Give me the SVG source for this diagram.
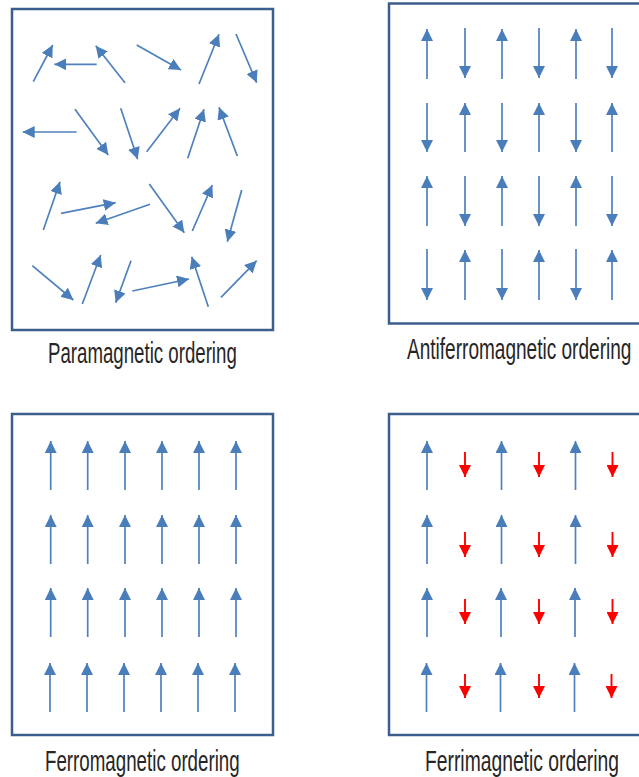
<svg xmlns="http://www.w3.org/2000/svg" width="639" height="777" viewBox="0 0 639 777">
<style>
.box{fill:#ffffff;stroke:#3b5e8c;stroke-width:2.5}
.b{stroke:#4f81bd;stroke-width:1.7;fill:none;marker-end:url(#hb)}
.r{stroke:#ff0000;stroke-width:1.9;fill:none;marker-end:url(#hr)}
.lbl{font-family:"Liberation Sans",Arial,sans-serif;font-size:29px;fill:#262626}
</style>
<defs>
<marker id="hb" markerUnits="userSpaceOnUse" viewBox="0 0 12 12" markerWidth="12" markerHeight="12" refX="12" refY="6" orient="auto"><path d="M0,0 L12,6 L0,12 Z" fill="#4a7ebb"/></marker>
<marker id="hr" markerUnits="userSpaceOnUse" viewBox="0 0 12 12" markerWidth="12" markerHeight="12" refX="12" refY="6" orient="auto"><path d="M0,0 L12,6 L0,12 Z" fill="#ff0000"/></marker>
</defs>
<rect width="639" height="777" fill="#ffffff"/>

<g id="paramagnetic">
<rect class="box" x="12" y="9" width="261" height="321"/>
<g id="para-arrows">
<line class="b" x1="33.3" y1="81.7" x2="52.7" y2="45"/>
<line class="b" x1="96.7" y1="64.3" x2="54.3" y2="64.3"/>
<line class="b" x1="125" y1="82.7" x2="95.7" y2="45.7"/>
<line class="b" x1="136.7" y1="45" x2="181" y2="70"/>
<line class="b" x1="199" y1="84" x2="219" y2="34.3"/>
<line class="b" x1="236" y1="34" x2="256.7" y2="82.7"/>
<line class="b" x1="76.7" y1="132" x2="22.7" y2="132"/>
<line class="b" x1="75" y1="109.3" x2="108.3" y2="155"/>
<line class="b" x1="120.7" y1="108.3" x2="137.7" y2="159.3"/>
<line class="b" x1="146.7" y1="151.7" x2="180" y2="108.3"/>
<line class="b" x1="187.7" y1="158.3" x2="204" y2="109.3"/>
<line class="b" x1="237.3" y1="156" x2="219" y2="107.3"/>
<line class="b" x1="43.3" y1="230" x2="60" y2="181.7"/>
<line class="b" x1="61" y1="213.3" x2="115.7" y2="202.7"/>
<line class="b" x1="150" y1="204.3" x2="95.7" y2="223.3"/>
<line class="b" x1="149.3" y1="184" x2="184.3" y2="232.7"/>
<line class="b" x1="192.3" y1="231" x2="212.3" y2="185"/>
<line class="b" x1="241.7" y1="190" x2="227.3" y2="241.7"/>
<line class="b" x1="32.3" y1="265.7" x2="73.3" y2="300"/>
<line class="b" x1="82.3" y1="304" x2="100.7" y2="255"/>
<line class="b" x1="131" y1="260.7" x2="115.7" y2="302.7"/>
<line class="b" x1="132.3" y1="291" x2="189" y2="279"/>
<line class="b" x1="208.3" y1="306.7" x2="191.7" y2="256.7"/>
<line class="b" x1="221" y1="297.3" x2="256.7" y2="260.7"/>
</g>
<text class="lbl" transform="translate(48,363) scale(0.66,1)" x="0" y="0" textLength="286" lengthAdjust="spacingAndGlyphs">Paramagnetic ordering</text>
</g>

<g id="antiferromagnetic">
<rect class="box" x="389" y="3.5" width="262" height="320"/>
<g id="antiferro-arrows">
<line class="b" x1="427" y1="79" x2="427" y2="29"/>
<line class="b" x1="465" y1="28" x2="465" y2="78"/>
<line class="b" x1="502" y1="79" x2="502" y2="29"/>
<line class="b" x1="539" y1="28" x2="539" y2="78"/>
<line class="b" x1="576" y1="79" x2="576" y2="29"/>
<line class="b" x1="612" y1="28" x2="612" y2="78"/>

<line class="b" x1="427" y1="103" x2="427" y2="152"/>
<line class="b" x1="465" y1="152" x2="465" y2="103"/>
<line class="b" x1="502" y1="103" x2="502" y2="152"/>
<line class="b" x1="539" y1="152" x2="539" y2="103"/>
<line class="b" x1="576" y1="103" x2="576" y2="152"/>
<line class="b" x1="612" y1="152" x2="612" y2="103"/>

<line class="b" x1="427" y1="226" x2="427" y2="176"/>
<line class="b" x1="465" y1="176" x2="465" y2="226"/>
<line class="b" x1="502" y1="226" x2="502" y2="176"/>
<line class="b" x1="539" y1="176" x2="539" y2="226"/>
<line class="b" x1="576" y1="226" x2="576" y2="176"/>
<line class="b" x1="612" y1="176" x2="612" y2="226"/>

<line class="b" x1="427" y1="249" x2="427" y2="300"/>
<line class="b" x1="465" y1="300" x2="465" y2="250"/>
<line class="b" x1="502" y1="249" x2="502" y2="300"/>
<line class="b" x1="539" y1="300" x2="539" y2="250"/>
<line class="b" x1="576" y1="249" x2="576" y2="300"/>
<line class="b" x1="612" y1="300" x2="612" y2="250"/>
</g>
<text class="lbl" transform="translate(407,359) scale(0.66,1)" x="0" y="0" textLength="340" lengthAdjust="spacingAndGlyphs">Antiferromagnetic ordering</text>
</g>

<g id="ferromagnetic">
<rect class="box" x="12" y="414" width="261" height="321"/>
<g id="ferro-arrows">
<line class="b" x1="50.7" y1="490" x2="50.7" y2="441"/>
<line class="b" x1="87.7" y1="490" x2="87.7" y2="441"/>
<line class="b" x1="125" y1="490" x2="125" y2="441"/>
<line class="b" x1="162" y1="490" x2="162" y2="441"/>
<line class="b" x1="199" y1="490" x2="199" y2="441"/>
<line class="b" x1="236" y1="490" x2="236" y2="441"/>

<line class="b" x1="50.7" y1="564" x2="50.7" y2="515"/>
<line class="b" x1="87.7" y1="564" x2="87.7" y2="515"/>
<line class="b" x1="125" y1="564" x2="125" y2="515"/>
<line class="b" x1="162" y1="564" x2="162" y2="515"/>
<line class="b" x1="199" y1="564" x2="199" y2="515"/>
<line class="b" x1="236" y1="564" x2="236" y2="515"/>

<line class="b" x1="50.7" y1="637" x2="50.7" y2="588"/>
<line class="b" x1="87.7" y1="637" x2="87.7" y2="588"/>
<line class="b" x1="125" y1="637" x2="125" y2="588"/>
<line class="b" x1="162" y1="637" x2="162" y2="588"/>
<line class="b" x1="199" y1="637" x2="199" y2="588"/>
<line class="b" x1="236" y1="637" x2="236" y2="588"/>

<line class="b" x1="50" y1="712" x2="50" y2="663"/>
<line class="b" x1="87" y1="712" x2="87" y2="663"/>
<line class="b" x1="124" y1="712" x2="124" y2="663"/>
<line class="b" x1="161" y1="712" x2="161" y2="663"/>
<line class="b" x1="198" y1="712" x2="198" y2="663"/>
<line class="b" x1="235" y1="712" x2="235" y2="663"/>
</g>
<text class="lbl" transform="translate(45,771) scale(0.66,1)" x="0" y="0" textLength="295" lengthAdjust="spacingAndGlyphs">Ferromagnetic ordering</text>
</g>

<g id="ferrimagnetic">
<rect class="box" x="389" y="414" width="262" height="321"/>
<g id="ferri-arrows">
<line class="b" x1="427" y1="490" x2="427" y2="441"/>
<line class="b" x1="501.5" y1="490" x2="501.5" y2="441"/>
<line class="b" x1="575.5" y1="490" x2="575.5" y2="441"/>
<line class="b" x1="427" y1="564" x2="427" y2="515"/>
<line class="b" x1="501.5" y1="564" x2="501.5" y2="515"/>
<line class="b" x1="575.5" y1="564" x2="575.5" y2="515"/>
<line class="b" x1="427" y1="637" x2="427" y2="588"/>
<line class="b" x1="501" y1="637" x2="501" y2="588"/>
<line class="b" x1="575" y1="637" x2="575" y2="588"/>
<line class="b" x1="426.5" y1="712" x2="426.5" y2="663"/>
<line class="b" x1="500.5" y1="712" x2="500.5" y2="663"/>
<line class="b" x1="574.5" y1="712" x2="574.5" y2="663"/>

<line class="r" x1="465" y1="452" x2="465" y2="477"/>
<line class="r" x1="539" y1="452" x2="539" y2="477"/>
<line class="r" x1="612.5" y1="452" x2="612.5" y2="477"/>
<line class="r" x1="465" y1="532" x2="465" y2="557"/>
<line class="r" x1="539" y1="532" x2="539" y2="557"/>
<line class="r" x1="612.5" y1="532" x2="612.5" y2="557"/>
<line class="r" x1="465" y1="599" x2="465" y2="624"/>
<line class="r" x1="539" y1="599" x2="539" y2="624"/>
<line class="r" x1="612.5" y1="599" x2="612.5" y2="624"/>
<line class="r" x1="465" y1="674" x2="465" y2="698"/>
<line class="r" x1="539" y1="674" x2="539" y2="698"/>
<line class="r" x1="611.5" y1="674" x2="611.5" y2="698"/>
</g>
<text class="lbl" transform="translate(425,771) scale(0.66,1)" x="0" y="0" textLength="294" lengthAdjust="spacingAndGlyphs">Ferrimagnetic ordering</text>
</g>
</svg>
